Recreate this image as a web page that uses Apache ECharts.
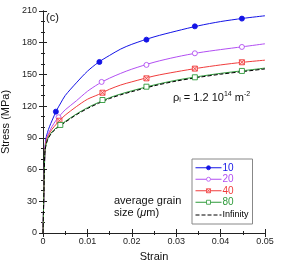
<!DOCTYPE html>
<html><head><meta charset="utf-8">
<script src="https://cdn.jsdelivr.net/npm/echarts@6/dist/echarts.min.js"></script>
<style>html,body{margin:0;padding:0;background:#fff}#c{width:284px;height:268px}</style>
</head><body><div id="c"></div>
<script>
// strain grid for curves
const strain = [0, 0.0002, 0.0004, 0.0006, 0.001, 0.0015, 0.002, 0.003, 0.004, 0.005, 0.0075, 0.01, 0.0125, 0.015, 0.0175, 0.02, 0.025, 0.03, 0.035, 0.04, 0.045, 0.05];
const stress10  = [0, 38, 75, 88, 95, 101, 106, 115.5, 123, 130, 142, 153, 161.5, 168, 174, 178.5, 185.5, 191, 196, 200, 203, 205.5];
const stress20  = [0, 38, 75, 86, 92, 96.5, 100.5, 107, 112, 116.5, 125, 134, 141, 146.5, 151, 155, 161.5, 166.5, 170.5, 173.5, 176.2, 179];
const stress40  = [0, 38, 75, 84.5, 90.5, 94.5, 98, 103, 107.5, 111.5, 119.5, 126.5, 131, 136, 140, 143, 148.5, 152.5, 156, 159, 161.5, 163.5];
const stress80  = [0, 38, 75, 82, 88.5, 92.5, 95.5, 99.5, 102.5, 105.5, 112.5, 118.5, 123.5, 128, 131.5, 134.5, 140, 144.5, 148, 151, 153.5, 156];
const stressInf = [0, 38, 75, 81.5, 87.8, 91.8, 94.8, 98.8, 101.8, 104.8, 111.8, 117.7, 122.7, 127.2, 130.7, 133.7, 139.2, 143.7, 147.2, 150.2, 152.7, 155.2];
// marker positions [strain, stress]
const marks10 = [[0.0029, 114.8], [0.0127, 161.8], [0.0233, 182.9], [0.0342, 195.5], [0.0448, 202.8]];
const marks20 = [[0.0035, 109.5], [0.0132, 142.9], [0.0233, 159], [0.0342, 170], [0.0448, 176]];
const marks40 = [[0.0037, 106.2], [0.0134, 132.7], [0.0233, 146.3], [0.0342, 155.5], [0.0448, 161.5]];
const marks80 = [[0.0039, 102.2], [0.0134, 125.8], [0.0233, 138.4], [0.0342, 147.3], [0.0448, 153.3]];
const names = ['10', '20', '40', '80', 'Infinity'];
const xTicks = [0, 0.01, 0.02, 0.03, 0.04, 0.05];
const yTicks = [0, 30, 60, 90, 120, 150, 180, 210];

const colors = ['#1414e6', '#b24ff2', '#f03c3c', '#2e9a3a', '#000'];
const boxX = 'path://M0,0H10V10H0Z M0,0L10,10 M10,0L0,10';
const pair = (ys) => strain.map((x, i) => [x, ys[i]]);

const curves = [stress10, stress20, stress40, stress80];
const markSets = [marks10, marks20, marks40, marks80];
const symbols = ['circle', 'circle', boxX, 'rect'];
const fills = [colors[0], '#fff', '#fde4e4', '#fff'];

const series = [];
curves.forEach((c, i) => {
  series.push({
    name: names[i], type: 'line', data: pair(c), smooth: 0.3, showSymbol: false,
    symbol: symbols[i], symbolSize: 4,
    lineStyle: {color: colors[i], width: 1},
    itemStyle: {color: fills[i], borderColor: colors[i], borderWidth: 0.8},
    z: 3
  });
});
series.push({
  name: names[4], type: 'line', data: pair(stressInf), smooth: 0.3, showSymbol: false, symbol: 'none',
  lineStyle: {color: '#000', width: 1, type: [4, 2]}, z: 3
});
curves.forEach((c, i) => {
  series.push({
    name: names[i], type: 'scatter', data: markSets[i], symbol: symbols[i], symbolSize: 5,
    itemStyle: {color: fills[i], borderColor: colors[i], borderWidth: 0.9, opacity: 1}, z: 4
  });
});

const fmt = (v) => v === 0 ? '0' : (xTicks.includes(v) ? v.toFixed(2) : '');
const axCommon = {
  axisLine: {lineStyle: {color: '#222', width: 1}},
  axisTick: {inside: true, length: 4, lineStyle: {color: '#222'}},
  splitLine: {show: false}
};
const xMinor = {show: true, splitNumber: 2, length: 2, lineStyle: {color: '#222'}};
const yMinor = {show: true, splitNumber: 3, length: 2, lineStyle: {color: '#222'}};

const chart = echarts.init(document.getElementById('c'), null, {renderer: 'canvas'});
chart.setOption({
  animation: false,
  grid: {left: 43, right: 19, top: 11, bottom: 35, containLabel: false, outerBoundsMode: 'none'},
  xAxis: [
    Object.assign({type: 'value', min: xTicks[0], max: xTicks[xTicks.length - 1], interval: 0.01,
      name: 'Strain', nameLocation: 'middle', nameGap: 18,
      nameTextStyle: {fontSize: 11, color: '#111', fontFamily: 'Liberation Sans'},
      axisLabel: {formatter: fmt, fontSize: 9, color: '#222', margin: 4, fontFamily: 'Liberation Sans'},
      minorTick: xMinor}, axCommon),
    Object.assign({type: 'value', position: 'top', min: 0, max: 0.05, interval: 0.01,
      axisLabel: {show: false}, minorTick: xMinor}, axCommon)
  ],
  yAxis: [
    Object.assign({type: 'value', min: yTicks[0], max: yTicks[yTicks.length - 1], interval: 30,
      name: 'Stress (MPa)', nameLocation: 'middle', nameGap: 23,
      nameTextStyle: {fontSize: 11, color: '#111', fontFamily: 'Liberation Sans'},
      axisLabel: {fontSize: 9, color: '#222', margin: 6, fontFamily: 'Liberation Sans'},
      minorTick: yMinor}, axCommon),
    Object.assign({type: 'value', position: 'right', min: 0, max: 210, interval: 30,
      axisLabel: {show: false}, minorTick: yMinor}, axCommon)
  ],
  legend: {
    orient: 'vertical', left: 192, top: 159, width: 57,
    padding: [3, 4, 2, 3], itemGap: 0, itemWidth: 26, itemHeight: 5,
    borderColor: '#888', borderWidth: 1, selectedMode: false,
    lineStyle: {width: 1},
    textStyle: {fontSize: 10, lineHeight: 11.5, padding: [0, 0, 0, -4], fontFamily: 'Liberation Sans'},
    data: names.map((n, i) => i < 4
      ? {name: n, textStyle: {color: colors[i]}, itemStyle: {borderWidth: 0.8}}
      : {name: n, textStyle: {color: '#000', fontSize: 9, lineHeight: 14}, itemStyle: {color: 'rgba(0,0,0,0)', borderColor: 'rgba(0,0,0,0)'}})
  },
  graphic: [
    {type: 'text', left: 46, top: 12, style: {text: '(c)', fontSize: 11, fill: '#111', fontFamily: 'Liberation Sans'}},
    {type: 'text', left: 173, top: 91, style: {
      text: '{a|ρ}{s|i}{a| = 1.2 10}{p|14}{a| m}{p|-2}',
      rich: {a: {fontSize: 11, fill: '#111', fontFamily: 'Liberation Sans'},
             s: {fontSize: 7, fill: '#111', padding: [6, 0, 0, 0], fontFamily: 'Liberation Sans'},
             p: {fontSize: 7, fill: '#111', padding: [0, 0, 6, 0], fontFamily: 'Liberation Sans'}}}},
    {type: 'text', left: 114, top: 195, style: {
      text: '{a|average grain}\n{a|size (}{i|μ}{a|m)}', align: 'center',
      rich: {a: {fontSize: 11, fill: '#111', lineHeight: 12, fontFamily: 'Liberation Sans'},
             i: {fontSize: 11, fill: '#111', fontStyle: 'italic', lineHeight: 12, fontFamily: 'Liberation Sans'}}}}
  ],
  series: series
});
</script></body></html>
